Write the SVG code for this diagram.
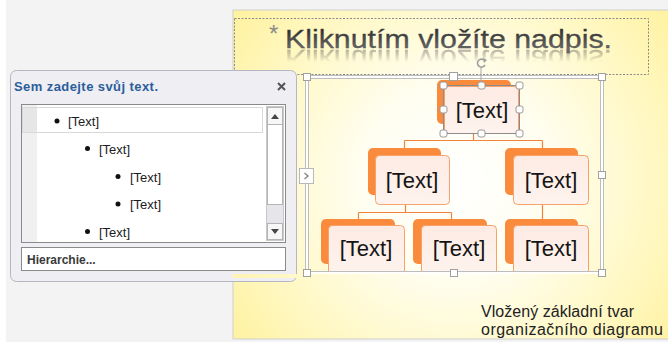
<svg xmlns="http://www.w3.org/2000/svg" xmlns:xlink="http://www.w3.org/1999/xlink" width="668" height="342" viewBox="0 0 668 342">
  <defs>
    <radialGradient id="slideBg" cx="455" cy="180" r="320" gradientUnits="userSpaceOnUse">
      <stop offset="0" stop-color="#ffffff"/>
      <stop offset="0.3" stop-color="#fffef0"/>
      <stop offset="0.7" stop-color="#fff6b8"/>
      <stop offset="1" stop-color="#ffee8c"/>
    </radialGradient>
    <linearGradient id="titleFill" x1="0" y1="30" x2="0" y2="50" gradientUnits="userSpaceOnUse">
      <stop offset="0" stop-color="#2e2e2e"/>
      <stop offset="1" stop-color="#6e6e6e"/>
    </linearGradient>
    <linearGradient id="reflFade" x1="0" y1="49" x2="0" y2="62" gradientUnits="userSpaceOnUse">
      <stop offset="0" stop-color="#fff" stop-opacity="0.5"/>
      <stop offset="1" stop-color="#fff" stop-opacity="0"/>
    </linearGradient>
    <mask id="reflMask" maskUnits="userSpaceOnUse" x="230" y="40" width="420" height="30">
      <rect x="230" y="49" width="420" height="20" fill="url(#reflFade)"/>
    </mask>
    <linearGradient id="nodeFace" x1="0" y1="0" x2="0" y2="1">
      <stop offset="0" stop-color="#fdebe3"/>
      <stop offset="1" stop-color="#fef3ee"/>
    </linearGradient>
    <style>
      .ui { font-family: "Liberation Sans", Arial, sans-serif; }
      .item { font-size: 13px; fill: #1c1c1c; }
      .bullet { fill: #111; }
      .back { fill: #fa8a3c; }
      .face { fill: url(#nodeFace); stroke: #f6a26a; stroke-width: 1; }
      .ntext { font-family: "Liberation Sans", Arial, sans-serif; font-size: 22px; fill: #141414; text-anchor: middle; }
      .conn { fill: none; stroke: #f0843c; stroke-width: 1.2; }
      .handle { fill: #ffffff; stroke: #a0a0a0; stroke-width: 1; }
      .shandle { fill: #ffffff; stroke: #9a9a9a; stroke-width: 1; }
    </style>
  </defs>

  <!-- application background -->
  <rect x="0" y="0" width="668" height="342" fill="#f3f3f3"/>
  <rect x="0" y="0" width="6" height="342" fill="#ffffff"/>

  <!-- slide -->
  <rect x="233" y="10" width="440" height="329" fill="url(#slideBg)" stroke="#cfcfcf" stroke-width="1"/>

  <!-- title placeholder -->
  <g id="title">
    <rect x="234.5" y="18.5" width="414" height="56" fill="none" stroke="#8a8a8a" stroke-width="1" stroke-dasharray="2 1.5"/>
    <text class="ui" x="269" y="42" font-size="24" fill="#8a8a8a">*</text>
    <text id="titleText" class="ui" x="285" y="48" font-size="26" fill="url(#titleFill)" stroke="#4a4a4a" stroke-width="0.3" textLength="327" lengthAdjust="spacingAndGlyphs">Kliknutím vložíte nadpis.</text>
    <!-- mirrored reflection under the title -->
    <g mask="url(#reflMask)">
      <use xlink:href="#titleText" href="#titleText" transform="translate(0 98) scale(1 -1)"/>
    </g>
  </g>

  <!-- text pane -->
  <g id="text-pane">
    <rect x="10.5" y="70.5" width="286" height="211" rx="6" fill="#eeeef3" stroke="#b4b7c2" stroke-width="1"/>
    <text class="ui" x="14" y="91" font-size="13" font-weight="bold" fill="#2b5d9b" textLength="144">Sem zadejte svůj text.</text>
    <path d="M278,83 L285,90 M285,83 L278,90" stroke="#555" stroke-width="2" fill="none"/>
    <rect x="21.5" y="104.5" width="264" height="138" fill="#ffffff" stroke="#8a8a8a" stroke-width="1"/>
    <rect x="22" y="105" width="15" height="137" fill="#f0f0f0"/>
    <rect x="22.5" y="107.5" width="240" height="25" fill="#ffffff" stroke="#d8d8d8" stroke-width="1"/>
    <rect x="23" y="108" width="14" height="24" fill="#e6e6e6"/>
    <!-- scrollbar -->
    <rect x="266.5" y="106.5" width="17" height="134" fill="#e6e6ea" stroke="#c8c8c8"/>
    <rect x="267.5" y="107.5" width="15" height="17" fill="#f7f7f7" stroke="#b5b5b5"/>
    <path d="M271,119 L275,114 L279,119 Z" fill="#444"/>
    <rect x="267.5" y="124.5" width="15" height="80" fill="#ffffff" stroke="#b5b5b5"/>
    <rect x="267.5" y="223.5" width="15" height="16" fill="#f7f7f7" stroke="#b5b5b5"/>
    <path d="M271,229 L279,229 L275,234 Z" fill="#444"/>
    <!-- outline items -->
    <circle class="bullet" cx="57" cy="121" r="2.5"/>
    <text class="ui item" x="68" y="126">[Text]</text>
    <circle class="bullet" cx="87.5" cy="148.5" r="2.5"/>
    <text class="ui item" x="99" y="154">[Text]</text>
    <circle class="bullet" cx="118" cy="176.5" r="2.5"/>
    <text class="ui item" x="130" y="182">[Text]</text>
    <circle class="bullet" cx="118" cy="204" r="2.5"/>
    <text class="ui item" x="130" y="209">[Text]</text>
    <circle class="bullet" cx="87.5" cy="231.5" r="2.5"/>
    <text class="ui item" x="99" y="237">[Text]</text>
    <!-- layout name -->
    <rect x="21.5" y="247.5" width="264" height="23" fill="#ffffff" stroke="#8a8a8a" stroke-width="1"/>
    <text class="ui" x="27" y="264" font-size="12" font-weight="bold" fill="#3a3a3a">Hierarchie...</text>
  </g>

  <!-- connectors -->
  <g id="connectors">
    <path class="conn" d="M473.5,128 V140.5 M404.5,140.5 H542.5 M404.5,140.5 V150 M542.5,140.5 V150"/>
    <path class="conn" d="M405.5,200 V212.5 M358.5,212.5 H451.5 M358.5,212.5 V222 M451.5,212.5 V222"/>
    <path class="conn" d="M542.5,200 V222"/>
  </g>

  <!-- org chart nodes -->
  <g id="node-top">
    <rect class="back" x="437" y="80" width="74" height="44" rx="5"/>
    <rect class="face" x="444.5" y="86.5" width="74" height="47" rx="4"/>
    <text class="ntext" x="482" y="118">[Text]</text>
  </g>
  <g id="node-left">
    <rect class="back" x="368" y="148" width="73" height="47" rx="5"/>
    <rect class="face" x="375.5" y="155.5" width="74" height="49" rx="4"/>
    <text class="ntext" x="412" y="188">[Text]</text>
  </g>
  <g id="node-right">
    <rect class="back" x="505" y="148" width="73" height="47" rx="5"/>
    <rect class="face" x="513.5" y="155.5" width="75" height="49" rx="4"/>
    <text class="ntext" x="551" y="188">[Text]</text>
  </g>
  <g id="node-left-a">
    <rect class="back" x="321" y="219" width="74" height="45" rx="5"/>
    <rect class="face" x="328.5" y="225.5" width="76" height="50" rx="4"/>
    <text class="ntext" x="366" y="256">[Text]</text>
  </g>
  <g id="node-left-b">
    <rect class="back" x="413" y="219" width="74" height="45" rx="5"/>
    <rect class="face" x="421.5" y="225.5" width="75" height="50" rx="4"/>
    <text class="ntext" x="459" y="256">[Text]</text>
  </g>
  <g id="node-right-a">
    <rect class="back" x="505" y="219" width="73" height="45" rx="5"/>
    <rect class="face" x="513.5" y="225.5" width="75" height="50" rx="4"/>
    <text class="ntext" x="551" y="256">[Text]</text>
  </g>

  <!-- graphic frame with sizing handles -->
  <g id="frame">
    <rect x="307" y="77" width="295" height="196" fill="none" stroke="#bdbdbd" stroke-width="4"/>
    <rect x="307" y="77" width="295" height="196" fill="none" stroke="#ffffff" stroke-width="2"/>
    <rect x="233" y="274" width="440" height="4" fill="url(#slideBg)"/>
    <rect x="303.5" y="73.5" width="7" height="7" class="handle"/>
    <rect x="449.5" y="72.5" width="8" height="8" class="handle"/>
    <rect x="598.5" y="73.5" width="7" height="7" class="handle"/>
    <rect x="598.5" y="171.5" width="7" height="7" class="handle"/>
    <rect x="303.5" y="269.5" width="7" height="7" class="handle"/>
    <rect x="450.5" y="269.5" width="7" height="7" class="handle"/>
    <rect x="598.5" y="269.5" width="7" height="7" class="handle"/>
    <rect x="299.5" y="168.5" width="14" height="15" fill="#ffffff" stroke="#b8b8b8"/>
    <path d="M304.5,173 L308,176 L304.5,179" fill="none" stroke="#8a8a8a" stroke-width="1.5"/>
  </g>

  <!-- selection of the top shape -->
  <g id="selection">
    <line x1="481" y1="68" x2="481" y2="85" stroke="#a8a8a8" stroke-width="1"/>
    <path d="M484.5,60.5 A4,4 0 1 0 485,65" fill="none" stroke="#a0a0a0" stroke-width="1.6"/>
    <path d="M483,58 L487,60 L484,63 Z" fill="#a0a0a0"/>
    <rect x="443.5" y="85.5" width="76" height="48" fill="none" stroke="#8c8c8c" stroke-width="1"/>
    <rect class="shandle" x="440" y="82" width="7" height="7" rx="2"/>
    <rect class="shandle" x="478" y="82" width="7" height="7" rx="2"/>
    <rect class="shandle" x="516" y="82" width="7" height="7" rx="2"/>
    <rect class="shandle" x="440" y="106" width="7" height="7" rx="2"/>
    <rect class="shandle" x="516" y="106" width="7" height="7" rx="2"/>
    <rect class="shandle" x="440" y="130" width="7" height="7" rx="2"/>
    <rect class="shandle" x="478" y="130" width="7" height="7" rx="2"/>
    <rect class="shandle" x="516" y="130" width="7" height="7" rx="2"/>
  </g>

  <!-- caption -->
  <g id="caption">
    <text class="ui" x="481" y="317" font-size="16" fill="#222" textLength="153">Vložený základní tvar</text>
    <text class="ui" x="481" y="335" font-size="16" fill="#222" textLength="182">organizačního diagramu</text>
  </g>
</svg>
